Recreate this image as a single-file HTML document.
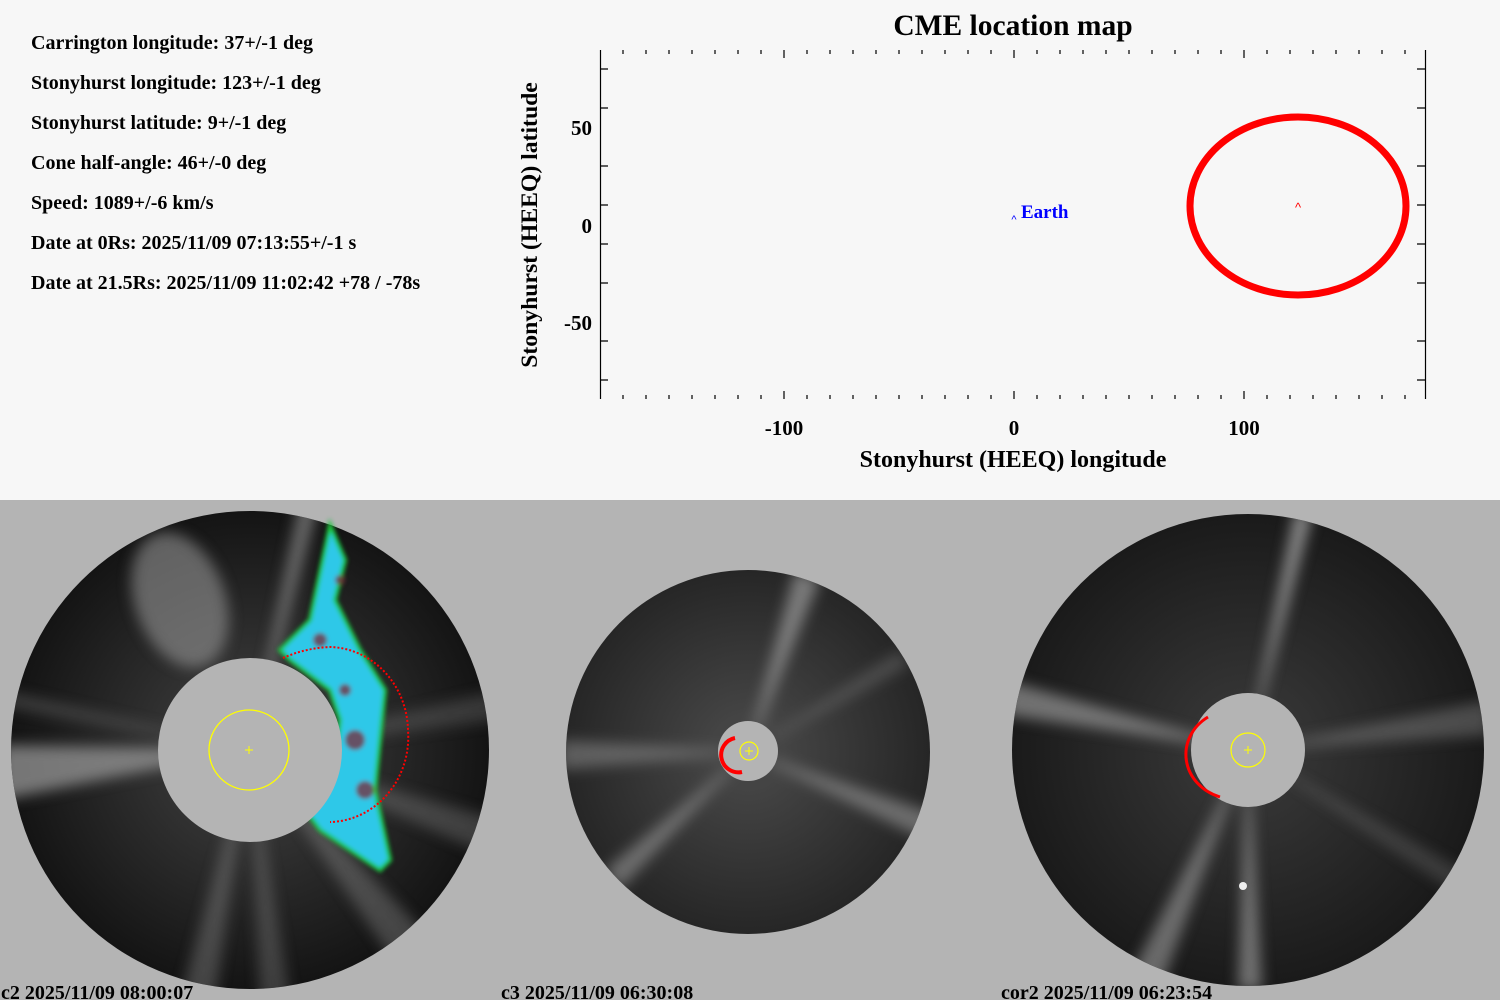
<!DOCTYPE html>
<html><head><meta charset="utf-8"><style>
body{margin:0;width:1500px;height:1000px;overflow:hidden;background:#f7f7f7;font-family:"Liberation Serif",serif;}
svg{position:absolute;left:0;top:0}
</style></head><body>
<svg width="1500" height="1000" viewBox="0 0 1500 1000" xmlns="http://www.w3.org/2000/svg">
<defs>
<radialGradient id="g1" cx="0.5" cy="0.5" r="0.5"><stop offset="0.35" stop-color="#333"/><stop offset="1" stop-color="#141414"/></radialGradient>
<radialGradient id="g2" cx="0.5" cy="0.5" r="0.5"><stop offset="0.2" stop-color="#444"/><stop offset="1" stop-color="#262626"/></radialGradient>
<radialGradient id="g3" cx="0.5" cy="0.5" r="0.5"><stop offset="0.25" stop-color="#333"/><stop offset="1" stop-color="#1a1a1a"/></radialGradient>
<clipPath id="c1"><circle cx="250" cy="750" r="239"/></clipPath>
<clipPath id="c2"><circle cx="748" cy="752" r="182"/></clipPath>
<clipPath id="c3"><circle cx="1248" cy="750" r="236"/></clipPath>
<filter id="bl" x="-20%" y="-20%" width="140%" height="140%"><feGaussianBlur stdDeviation="7"/></filter>
<filter id="bl2"><feGaussianBlur stdDeviation="2"/></filter>
</defs>
<rect width="1500" height="500" fill="#f7f7f7"/>
<g font-weight="bold" font-size="20" fill="#000" font-family="Liberation Serif, serif">
<text x="31" y="49">Carrington longitude: 37+/-1 deg</text>
<text x="31" y="89">Stonyhurst longitude: 123+/-1 deg</text>
<text x="31" y="129">Stonyhurst latitude: 9+/-1 deg</text>
<text x="31" y="169">Cone half-angle: 46+/-0 deg</text>
<text x="31" y="209">Speed: 1089+/-6 km/s</text>
<text x="31" y="249">Date at 0Rs: 2025/11/09 07:13:55+/-1 s</text>
<text x="31" y="289">Date at 21.5Rs: 2025/11/09 11:02:42 +78 / -78s</text>
<text x="1013" y="35" font-size="29.5" text-anchor="middle">CME location map</text>
<text x="784" y="435" font-size="21" text-anchor="middle">-100</text>
<text x="1014" y="435" font-size="21" text-anchor="middle">0</text>
<text x="1244" y="435" font-size="21" text-anchor="middle">100</text>
<text x="1013" y="467" font-size="24" text-anchor="middle">Stonyhurst (HEEQ) longitude</text>
<text x="592" y="135" font-size="21" text-anchor="end">50</text>
<text x="592" y="233" font-size="21" text-anchor="end">0</text>
<text x="592" y="330" font-size="21" text-anchor="end">-50</text>
<text transform="translate(537,225) rotate(-90)" font-size="23.7" text-anchor="middle">Stonyhurst (HEEQ) latitude</text>
</g>
<g stroke="#000" stroke-width="1.2" fill="none">
<line x1="600.5" y1="50" x2="600.5" y2="399"/>
<line x1="1425.5" y1="50" x2="1425.5" y2="399"/>
<path id="xt" d="M623 50v4M646 50v4M669 50v4M692 50v4M715 50v4M738 50v4M761 50v4M784 50v8M807 50v4M830 50v4M853 50v4M876 50v4M899 50v4M922 50v4M945 50v4M968 50v4M991 50v4M1014 50v8M1037 50v4M1060 50v4M1083 50v4M1106 50v4M1129 50v4M1152 50v4M1175 50v4M1198 50v4M1221 50v4M1244 50v8M1267 50v4M1290 50v4M1313 50v4M1336 50v4M1359 50v4M1382 50v4M1405 50v4"/>
<use href="#xt" transform="translate(0,449) scale(1,-1)"/>
<path d="M600 69h8M600 108h8M600 166h8M600 205h8M600 244h8M600 283h8M600 341h8M600 380h8"/>
<path d="M1425 69h-8M1425 108h-8M1425 166h-8M1425 205h-8M1425 244h-8M1425 283h-8M1425 341h-8M1425 380h-8"/>
</g>
<ellipse cx="1298" cy="206" rx="108" ry="89" fill="none" stroke="#f00" stroke-width="7"/>
<text x="1298" y="212" font-size="13" fill="#f00" text-anchor="middle" font-family="Liberation Sans">^</text>
<text x="1014" y="223" font-size="11" fill="#00f" text-anchor="middle" font-family="Liberation Sans">^</text>
<text x="1021" y="218" font-size="19" font-weight="bold" fill="#00f">Earth</text>

<rect y="500" width="1500" height="500" fill="#b4b4b4"/>
<!-- c2 -->
<circle cx="250" cy="750" r="239" fill="url(#g1)"/>
<g clip-path="url(#c1)"><g fill="#a0a0a0" filter="url(#bl)">
<path d="M250 750L0 745L0 800Z" opacity="0.7"/>
<path d="M250 750L0 690L0 705Z" opacity="0.3"/>
<ellipse cx="180" cy="600" rx="45" ry="70" transform="rotate(-20 180 600)" opacity="0.55"/>
<path d="M250 750L300 500L320 500Z" opacity="0.6"/>
<path d="M250 750L180 1000L215 1000Z" opacity="0.35"/>
<path d="M250 750L260 1000L290 1000Z" opacity="0.3"/>
<path d="M250 750L500 820L500 860Z" opacity="0.3"/>
<path d="M250 750L500 690L500 720Z" opacity="0.25"/>
<path d="M250 750L420 1000L470 980Z" opacity="0.35"/>
</g></g>
<g filter="url(#bl2)">
<path d="M330 525L345 560L335 600L360 650L385 690L380 740L375 790L390 860L380 870L320 830L305 810L335 760L340 720L330 690L290 660L280 650L310 620Z" fill="#2dc8e8" stroke="#1fc83c" stroke-width="4"/>
<g fill="#7a2a3a" opacity="0.75"><circle cx="355" cy="740" r="10"/><circle cx="365" cy="790" r="9"/><circle cx="320" cy="640" r="7"/><circle cx="340" cy="580" r="5"/><circle cx="345" cy="690" r="6"/></g>
</g>
<circle cx="250" cy="750" r="92" fill="#b4b4b4"/>
<circle cx="249" cy="750" r="40" fill="none" stroke="#ff0" stroke-width="1.3"/>
<path d="M245 750h8M249 746v8" stroke="#ff0"/>
<path d="M283 658A110 92 0 0 1 330 647A80 85 0 0 1 408 730A80 85 0 0 1 330 822" fill="none" stroke="#f00" stroke-width="2" stroke-dasharray="2 2"/>
<text x="1" y="999" font-size="20" font-weight="bold" font-family="Liberation Serif, serif">c2 2025/11/09 08:00:07</text>
<!-- c3 -->
<circle cx="748" cy="752" r="182" fill="url(#g2)"/>
<g clip-path="url(#c2)"><g fill="#b0b0b0" filter="url(#bl)">
<path d="M748 752L795 570L820 580Z" opacity="0.6"/><path d="M748 752L940 815L935 845Z" opacity="0.5"/><path d="M748 752L605 870L620 890Z" opacity="0.5"/><path d="M748 752L560 740L560 770Z" opacity="0.4"/><path d="M748 752L900 650L910 665Z" opacity="0.25"/>
</g></g>
<circle cx="748" cy="751" r="30" fill="#b4b4b4"/>
<circle cx="749" cy="751" r="9" fill="none" stroke="#ff0" stroke-width="1.2"/>
<path d="M745 751h8M749 747v8" stroke="#ff0"/>
<path d="M735 738A17 17 0 0 0 742 772" fill="none" stroke="#f00" stroke-width="4"/>
<text x="501" y="999" font-size="20" font-weight="bold" font-family="Liberation Serif, serif">c3 2025/11/09 06:30:08</text>
<!-- cor2 -->
<circle cx="1248" cy="750" r="236" fill="url(#g3)"/>
<g clip-path="url(#c3)"><g fill="#b8b8b8" filter="url(#bl)">
<path d="M1248 750L1295 510L1312 515Z" opacity="0.7"/><path d="M1248 750L1005 680L1005 715Z" opacity="0.55"/><path d="M1248 750L1125 985L1160 990Z" opacity="0.5"/><path d="M1248 750L1238 990L1262 990Z" opacity="0.55"/><path d="M1248 750L1490 700L1490 735Z" opacity="0.3"/><path d="M1248 750L1480 880L1480 910Z" opacity="0.2"/>
</g></g>
<circle cx="1243" cy="886" r="4" fill="#eee"/>
<circle cx="1248" cy="750" r="57" fill="#b4b4b4"/>
<circle cx="1248" cy="750" r="17" fill="none" stroke="#ff0" stroke-width="1.2"/>
<path d="M1244 750h8M1248 746v8" stroke="#ff0"/>
<path d="M1208 717A50 45 0 0 0 1220 797" fill="none" stroke="#f00" stroke-width="3"/>
<text x="1001" y="999" font-size="20" font-weight="bold" font-family="Liberation Serif, serif">cor2 2025/11/09 06:23:54</text>
</svg>
</body></html>
